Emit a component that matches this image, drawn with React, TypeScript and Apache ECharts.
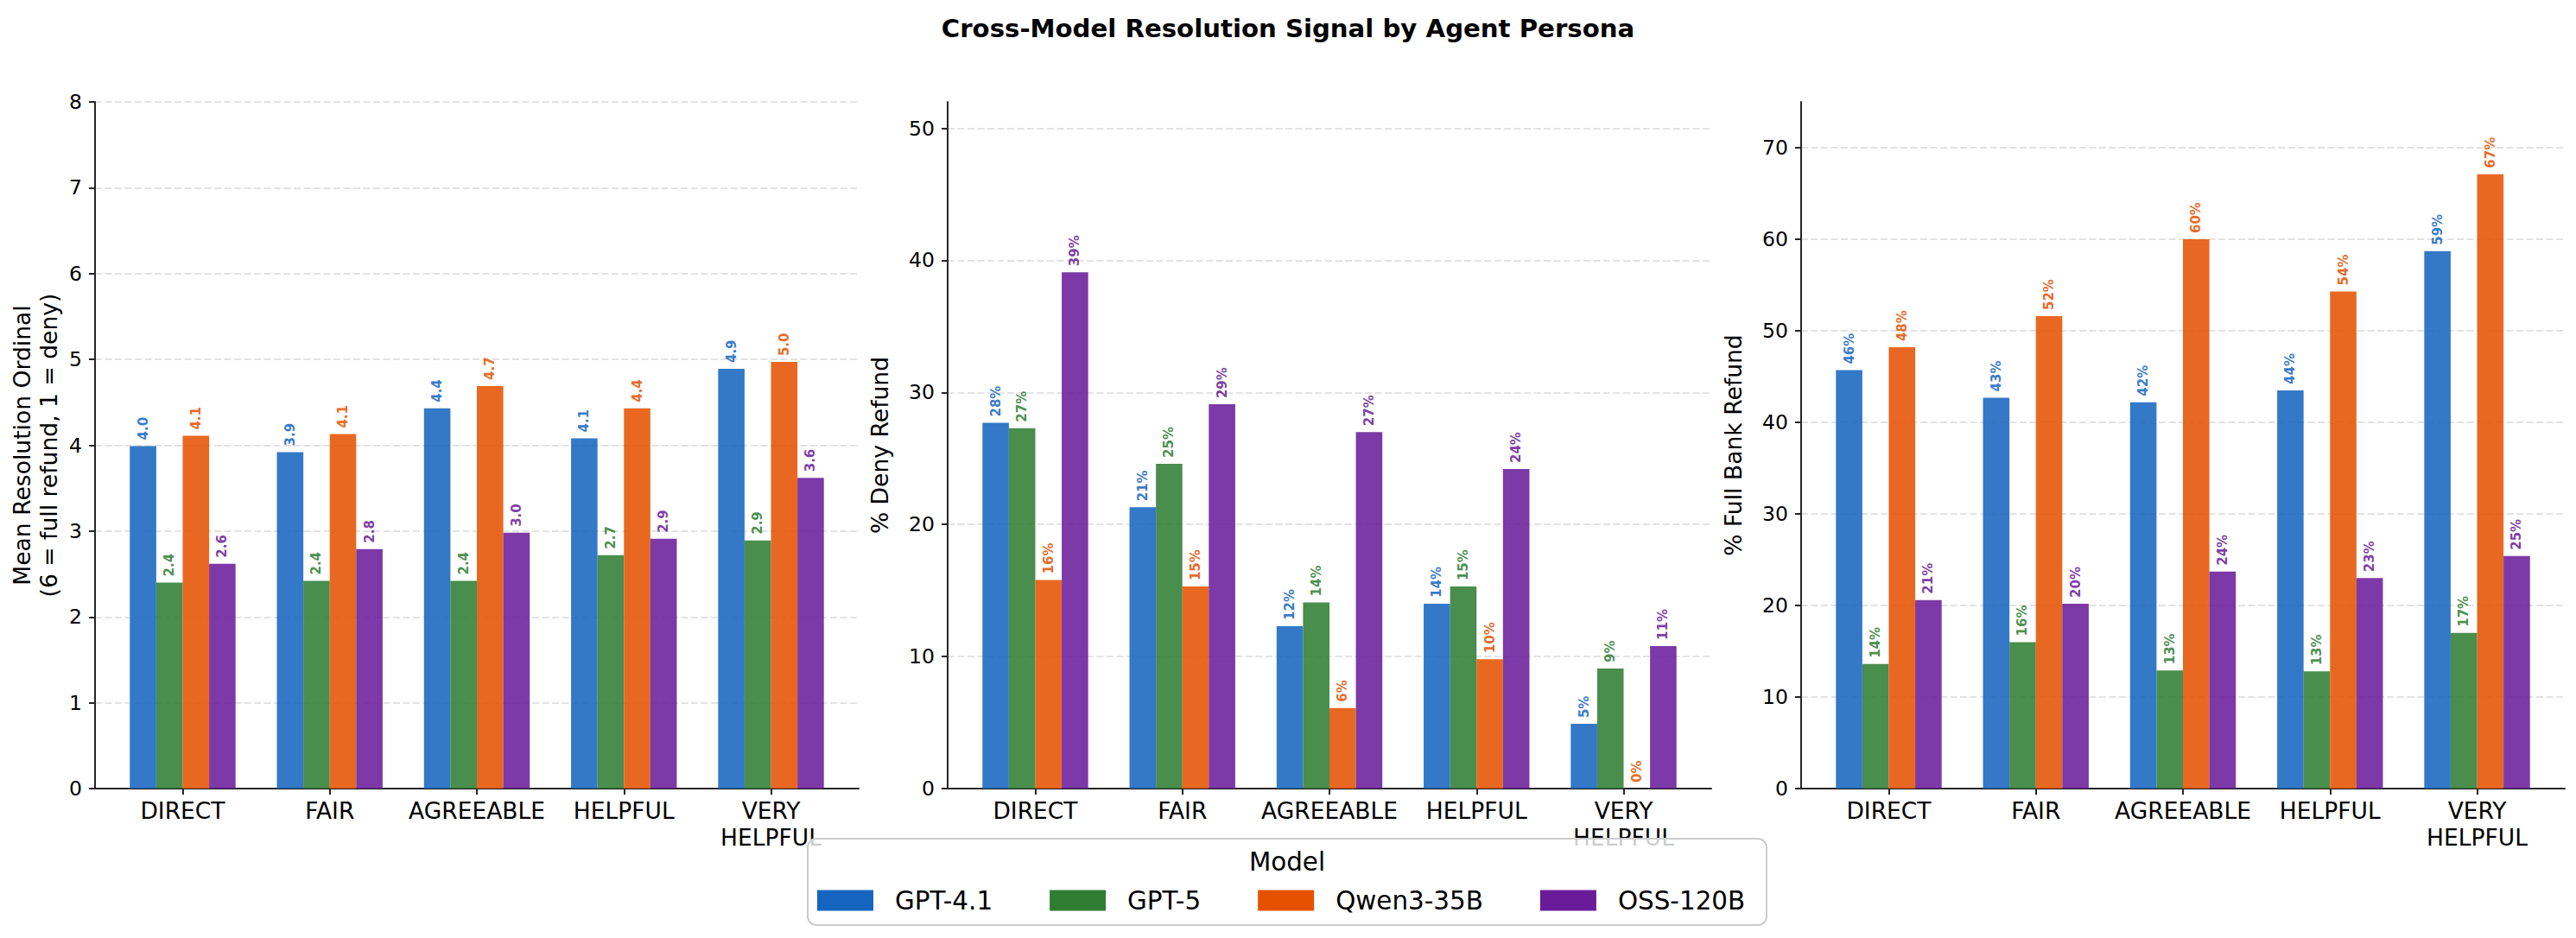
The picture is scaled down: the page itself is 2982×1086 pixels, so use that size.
import React, { useEffect, useRef } from "react";
import * as echarts from "echarts";

const FONT = "DejaVu Sans";

const personas = ["DIRECT", "FAIR", "AGREEABLE", "HELPFUL", "VERY\nHELPFUL"];
const models = ["GPT-4.1", "GPT-5", "Qwen3-35B", "OSS-120B"];
const modelColors = ["#1565C0", "#2E7D32", "#E65100", "#6A1B9A"];

// Panel 1: mean resolution ordinal
const ordinalGpt41 = [3.99, 3.92, 4.43, 4.08, 4.89];
const ordinalGpt5 = [2.4, 2.42, 2.42, 2.72, 2.89];
const ordinalQwen = [4.11, 4.13, 4.69, 4.43, 4.97];
const ordinalOss = [2.62, 2.79, 2.98, 2.91, 3.62];

// Panel 2: % deny refund
const denyGpt41 = [27.7, 21.3, 12.3, 14.0, 4.9];
const denyGpt5 = [27.3, 24.6, 14.1, 15.3, 9.1];
const denyQwen = [15.8, 15.3, 6.1, 9.8, 0];
const denyOss = [39.1, 29.1, 27.0, 24.2, 10.8];

// Panel 3: % full bank refund
const fullGpt41 = [45.7, 42.7, 42.2, 43.5, 58.7];
const fullGpt5 = [13.6, 16.0, 12.9, 12.8, 17.0];
const fullQwen = [48.2, 51.6, 60.0, 54.3, 67.1];
const fullOss = [20.6, 20.2, 23.7, 23.0, 25.4];

const panelSeries = [
  [ordinalGpt41, ordinalGpt5, ordinalQwen, ordinalOss],
  [denyGpt41, denyGpt5, denyQwen, denyOss],
  [fullGpt41, fullGpt5, fullQwen, fullOss],
];
const panelYMax = [8, 52, 75];
const panelYTicks = [
  [0, 1, 2, 3, 4, 5, 6, 7, 8],
  [0, 10, 20, 30, 40, 50],
  [0, 10, 20, 30, 40, 50, 60, 70],
];
const panelYNames = [
  "Mean Resolution Ordinal\n(6 = full refund, 1 = deny)",
  "% Deny Refund",
  "% Full Bank Refund",
];
const xTickValues = [0, 1, 2, 3, 4];

const TITLE = "Cross-Model Resolution Signal by Agent Persona";

export default function App() {
  const ref = useRef<HTMLDivElement>(null);

  useEffect(() => {
    if (!ref.current) return;
    const chart = echarts.init(ref.current, null, { renderer: "svg" });

    const gridLefts = [110, 1097, 2085];
    const axisColor = "#262626";

    const grids = gridLefts.map((l) => ({
      left: l,
      top: 118,
      width: 884,
      height: 795,
      containLabel: false,
    }));

    const xAxes = gridLefts.map((_, k) => ({
      type: "value",
      gridIndex: k,
      min: -0.596,
      max: 4.596,
      splitLine: { show: false },
      axisLine: { show: true, onZero: false, lineStyle: { color: axisColor, width: 2 } },
      axisTick: {
        show: true,
        length: 7,
        customValues: xTickValues,
        lineStyle: { color: axisColor, width: 2 },
      },
      axisLabel: {
        customValues: xTickValues,
        formatter: (v: number) => personas[Math.round(v)] ?? "",
        fontSize: 26.5,
        lineHeight: 31,
        margin: 10,
        color: "#000",
        fontFamily: FONT,
      },
    }));

    const yAxes = gridLefts.map((_, k) => ({
      type: "value",
      gridIndex: k,
      min: 0,
      max: panelYMax[k],
      interval: k === 0 ? 1 : 10,
      axisLine: { show: true, onZero: false, lineStyle: { color: axisColor, width: 2 } },
      axisTick: {
        show: true,
        length: 7,
        customValues: panelYTicks[k],
        lineStyle: { color: axisColor, width: 2 },
      },
      axisLabel: {
        customValues: panelYTicks[k],
        fontSize: 23.5,
        margin: 15,
        color: "#000",
        fontFamily: FONT,
      },
      splitLine: {
        show: true,
        showMinLine: false,
        showMaxLine: true,
        lineStyle: { color: "#e3e3e3", type: [8, 3.5], width: 2 },
      },
      name: panelYNames[k],
      nameLocation: "middle",
      nameGap: k === 0 ? 38 : 63,
      nameTextStyle: {
        fontSize: 26.6,
        lineHeight: 31,
        color: "#000",
        fontFamily: FONT,
      },
    }));

    const series: any[] = [];
    panelSeries.forEach((panel, k) => {
      panel.forEach((vals, m) => {
        series.push({
          type: "bar",
          name: models[m],
          xAxisIndex: k,
          yAxisIndex: k,
          barWidth: 30.6,
          barGap: "0%",
          itemStyle: { color: modelColors[m], opacity: 0.87 },
          data: vals.map((v, i) => [i, v]),
          label: {
            show: true,
            position: "top",
            distance: 7,
            rotate: 90,
            align: "left",
            verticalAlign: "middle",
            fontSize: 15,
            fontWeight: "bold",
            fontFamily: FONT,
            color: modelColors[m],
            formatter: (p: any) => {
              const v = p.value[1];
              return k === 0 ? v.toFixed(1) : Math.round(v) + "%";
            },
          },
        });
      });
    });

    chart.setOption({
      animation: false,
      backgroundColor: "#ffffff",
      title: {
        text: TITLE,
        left: "center",
        top: 13,
        textStyle: { fontSize: 29.2, fontWeight: "bold", fontFamily: FONT, color: "#000" },
      },
      grid: grids,
      xAxis: xAxes,
      yAxis: yAxes,
      legend: {
        data: models.map((n, i) => ({
          name: n,
          itemStyle: { color: modelColors[i], opacity: 1 },
        })),
        left: 946,
        top: 1028,
        icon: "rect",
        itemWidth: 65,
        itemHeight: 24,
        itemGap: 66,
        padding: 0,
        selectedMode: false,
        z: 60,
        textStyle: { fontSize: 29.4, color: "#000", fontFamily: FONT, padding: [0, 0, 0, 20] },
      },
      graphic: [
        {
          type: "rect",
          z: 50,
          silent: true,
          shape: { x: 935, y: 971, width: 1110, height: 100, r: 10 },
          style: { fill: "rgba(255,255,255,0.8)", stroke: "#cccccc", lineWidth: 2 },
        },
        {
          type: "text",
          z: 51,
          silent: true,
          x: 1490,
          y: 998,
          style: {
            text: "Model",
            fontSize: 29.4,
            fontFamily: FONT,
            fill: "#000",
            align: "center",
            verticalAlign: "middle",
          },
        },
      ],
      series,
    });

    return () => chart.dispose();
  }, []);

  return (
    <div
      ref={ref}
      style={{ position: "absolute", left: 0, top: 0, width: 2982, height: 1086 }}
    />
  );
}
